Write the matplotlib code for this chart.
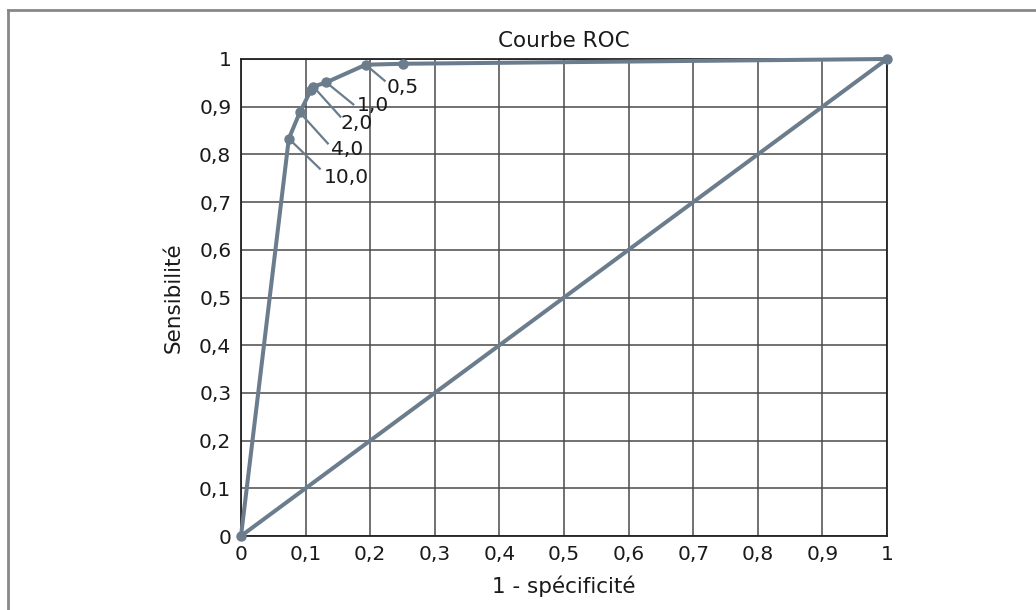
import matplotlib.pyplot as plt
from matplotlib.lines import Line2D

plt.rcParams['font.family'] = ['DejaVu Sans']

# ROC points (1 - specificity, sensitivity)
fpr = [0.0, 0.074, 0.091, 0.108, 0.112, 0.132, 0.193, 0.250, 1.0]
tpr = [0.0, 0.833, 0.888, 0.934, 0.942, 0.951, 0.988, 0.990, 1.0]

# threshold labels: point index, label
thresholds = [(6, '0,5'), (5, '1,0'), (4, '2,0'), (2, '4,0'), (1, '10,0')]
# leader end and text corner, in pixels right/down of the point
leader_px = {'0,5': (19, 16), '1,0': (27, 22), '2,0': (27, 30),
             '4,0': (28, 31), '10,0': (31, 30)}
text_px = {'0,5': (21, 13), '1,0': (31, 14), '2,0': (27, 27),
           '4,0': (31, 28), '10,0': (35, 29)}

ticks = [i / 10 for i in range(11)]
tick_labels = ['0'] + ['0,%d' % i for i in range(1, 10)] + ['1']

curve_color = '#6b7d8d'
ax_w, ax_h = 646, 477

fig = plt.figure(figsize=(10.36, 6.10), dpi=100)
ax = fig.add_axes([241 / 1036, 74 / 610, ax_w / 1036, ax_h / 610])

ax.plot([0, 1], [0, 1], color=curve_color, lw=2.9, solid_capstyle='round', zorder=3)
ax.plot(fpr, tpr, color=curve_color, lw=2.9, marker='o', ms=6.5,
        solid_joinstyle='round', zorder=4, clip_on=False)

for idx, lab in thresholds:
    x, y = fpr[idx], tpr[idx]
    lx, ly = leader_px[lab]
    tx, ty = text_px[lab]
    ax.plot([x, x + lx / ax_w], [y, y - ly / ax_h], color=curve_color, lw=1.6, zorder=3)
    ax.text(x + tx / ax_w, y - ty / ax_h, lab, fontsize=14.5, ha='left', va='top',
            color='#1a1a1a', zorder=5)

ax.set_xlim(0, 1)
ax.set_ylim(0, 1)
ax.set_xticks(ticks)
ax.set_yticks(ticks)
ax.set_xticklabels(tick_labels, fontsize=14.5)
ax.set_yticklabels(tick_labels, fontsize=14.5)
ax.tick_params(axis='x', length=0, pad=6.5, colors='#1a1a1a')
ax.tick_params(axis='y', length=0, pad=7, colors='#1a1a1a')
ax.grid(True, color='#4a4a4a', lw=1.1)
ax.set_axisbelow(True)
for s in ax.spines.values():
    s.set_color('#222222')
    s.set_linewidth(1.3)

ax.set_title('Courbe ROC', fontsize=15.5, pad=8.5, color='#1a1a1a')
ax.set_xlabel('1 - spécificité', fontsize=15.5, labelpad=8, color='#1a1a1a')
ax.set_ylabel('Sensibilité', fontsize=15.5, labelpad=11, color='#1a1a1a')

# partial frame around the figure
fig.add_artist(Line2D([8 / 1036, 1], [1 - 10 / 610, 1 - 10 / 610],
                      transform=fig.transFigure, color='#888888', lw=2))
fig.add_artist(Line2D([8 / 1036, 8 / 1036], [0, 1 - 10 / 610],
                      transform=fig.transFigure, color='#888888', lw=2))

fig.savefig('out.png', dpi=100)
